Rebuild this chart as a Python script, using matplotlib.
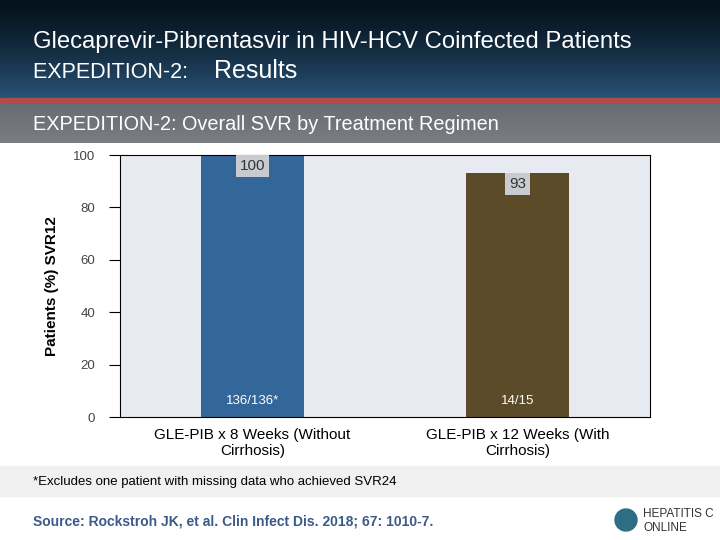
import matplotlib.pyplot as plt
import numpy as np
from matplotlib.patches import Rectangle

plt.rcParams['font.family'] = ['Liberation Sans', 'DejaVu Sans']

categories = ['GLE-PIB x 8 Weeks (Without\nCirrhosis)', 'GLE-PIB x 12 Weeks (With\nCirrhosis)']
svr = [100, 93]
counts = ['136/136*', '14/15']
colors = ['#336699', '#5c4b29']

fig = plt.figure(figsize=(7.2, 5.4), dpi=100)

# header background
bg = fig.add_axes([0, 0, 1, 1], zorder=-10)
bg.set_xlim(0, 720)
bg.set_ylim(540, 0)
bg.axis('off')
grad = np.linspace(0, 1, 100).reshape(-1, 1)
top = np.array([0.02, 0.07, 0.11])
bot = np.array([0.16, 0.33, 0.47])
img = top + (bot - top) * grad[..., None] ** 1.3
bg.imshow(img, extent=[0, 720, 100, 0], aspect='auto')
bg.add_patch(Rectangle((0, 98), 720, 4, color='#b24a45'))
grad2 = np.linspace(0, 1, 42).reshape(-1, 1)
img2 = np.array([0.40, 0.42, 0.45]) + (np.array([0.48, 0.49, 0.51]) - np.array([0.40, 0.42, 0.45])) * grad2[..., None]
bg.imshow(img2, extent=[0, 720, 143, 102], aspect='auto')
bg.add_patch(Rectangle((0, 466), 720, 30, color='#f0f0f0'))
bg.text(33, 42, 'Glecaprevir-Pibrentasvir in HIV-HCV Coinfected Patients', color='white', fontsize=17.2, va='center')
bg.text(33, 73, 'EXPEDITION-2: ', color='white', fontsize=15.5, va='center')
bg.text(214, 71, 'Results', color='white', fontsize=18, va='center')
bg.text(33, 124, 'EXPEDITION-2: Overall SVR by Treatment Regimen', color='white', fontsize=14.3, va='center')
bg.text(33, 482, '*Excludes one patient with missing data who achieved SVR24', fontsize=9.5, va='center')
bg.text(33, 521, 'Source: Rockstroh JK, et al. Clin Infect Dis. 2018; 67: 1010-7.',
        color='#3a5a8a', fontsize=10, fontweight='bold', va='center')
bg.text(643, 514, 'HEPATITIS C', color='#333333', fontsize=8.5, va='center')
bg.text(643, 528, 'ONLINE', color='#333333', fontsize=8.5, va='center')
bg.add_patch(plt.Circle((626, 520), 11, color='#2d6e84'))

ax = fig.add_axes([120 / 720, 1 - 417 / 540, 530 / 720, 262 / 540])
ax.set_facecolor('#e7ebf1')
x = np.array([0.5, 1.5])
ax.bar(x, svr, width=0.39, color=colors)
ax.set_xlim(0, 2)
ax.set_ylim(0, 100)
ax.set_yticks([0, 20, 40, 60, 80, 100])
ax.tick_params(axis='y', direction='out', length=8, labelsize=9.5, pad=10, labelcolor='#444444')
ax.tick_params(axis='x', length=0, labelsize=11, pad=8)
ax.set_xticks(x)
ax.set_xticklabels(categories)
for s in ax.spines.values():
    s.set_color('black')
ax.set_ylabel('Patients (%) SVR12', fontsize=11, fontweight='bold', labelpad=20)
ax.yaxis.set_label_coords(-0.115, 0.5)
for xi, v, c in zip(x, svr, counts):
    ax.text(xi, v - 1.5, str(v), ha='center', va='top', fontsize=11, color='#333333',
            bbox=dict(facecolor='#c8ccd0', edgecolor='none', pad=3))
    ax.text(xi, 4, c, ha='center', va='bottom', fontsize=9.5, color='white')

fig.savefig('out.png', dpi=100)
